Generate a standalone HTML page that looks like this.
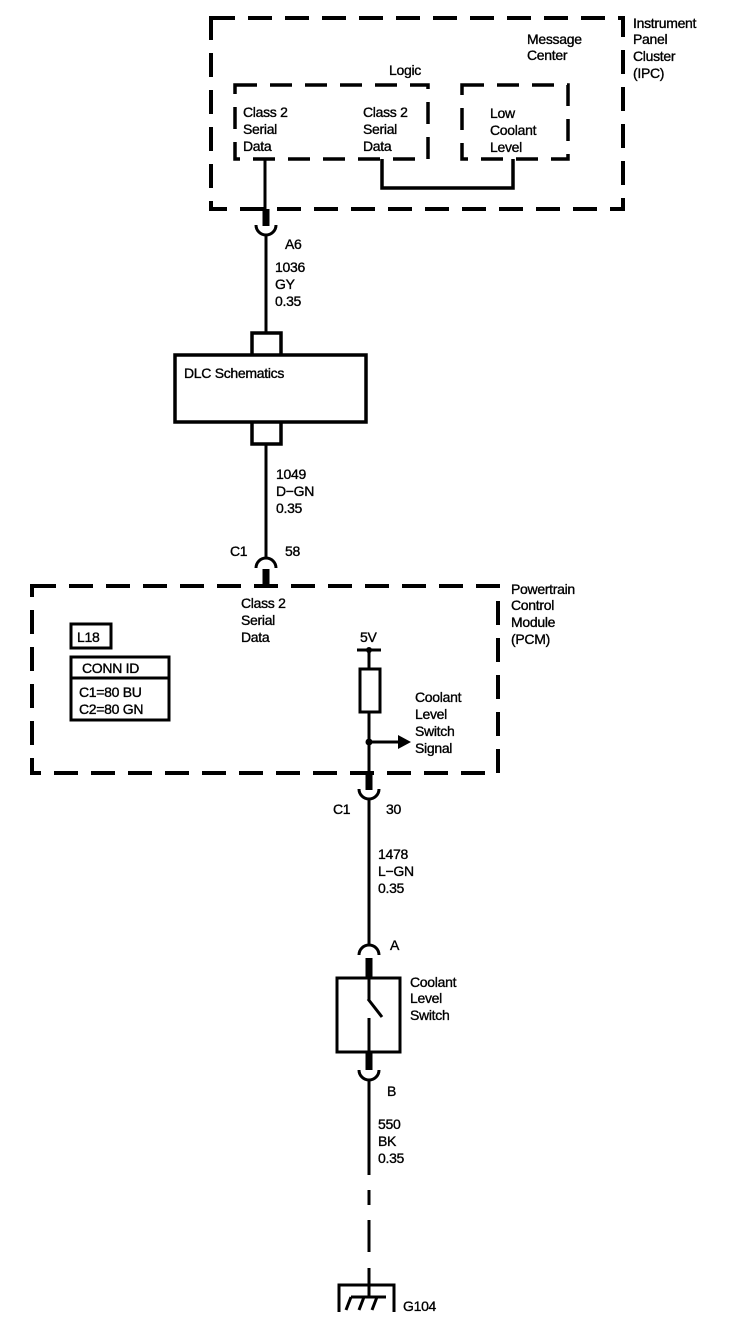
<!DOCTYPE html>
<html><head><meta charset="utf-8"><style>
html,body{margin:0;padding:0;background:#fff;}
svg{display:block}
text{font-family:"Liberation Sans",Arial,sans-serif;font-size:14px;fill:#000;stroke:#000;stroke-width:0.35px;letter-spacing:-0.3px}
</style></head><body>
<svg width="752" height="1332" viewBox="0 0 752 1332" xmlns="http://www.w3.org/2000/svg">
<g fill="none" stroke="#000">
<rect x="211" y="18" width="412" height="191" stroke-width="4" stroke-dasharray="24,13"/>
<rect x="235" y="85" width="193" height="74" stroke-width="3.5" stroke-dasharray="22,13"/>
<rect x="462" y="85" width="106" height="74" stroke-width="3.5" stroke-dasharray="22,13"/>
<polyline points="382,159 382,188 513,188 513,159" stroke-width="3.5"/>
<line x1="265" y1="159" x2="265" y2="224" stroke-width="3"/>
<line x1="266" y1="209" x2="266" y2="226" stroke-width="7"/>
<path d="M256,225 A10,10 0 0 0 276,225" stroke-width="3"/>
<line x1="266" y1="235" x2="266" y2="333" stroke-width="3"/>
<polyline points="252,354 252,333 281,333 281,354" stroke-width="3.5"/>
<rect x="175" y="355" width="191" height="67" stroke-width="3.5"/>
<polyline points="252,422 252,444 281,444 281,422" stroke-width="3.5"/>
<line x1="266" y1="444" x2="266" y2="558" stroke-width="3"/>
<path d="M256,568 A10,10 0 0 1 276,568" stroke-width="3"/>
<line x1="266" y1="569" x2="266" y2="586" stroke-width="7"/>
<rect x="32" y="586" width="466" height="187" stroke-width="4" stroke-dasharray="24,13"/>
<rect x="71" y="624" width="40" height="24" stroke-width="3"/>
<rect x="71" y="657" width="98" height="63" stroke-width="3"/>
<line x1="71" y1="678" x2="169" y2="678" stroke-width="3"/>
<line x1="357" y1="650" x2="381" y2="650" stroke-width="3"/>
<line x1="369" y1="650" x2="369" y2="668" stroke-width="3"/>
<rect x="360" y="669" width="20" height="43" stroke-width="3"/>
<line x1="369" y1="712" x2="369" y2="773" stroke-width="3"/>
<line x1="369" y1="742" x2="400" y2="742" stroke-width="3"/>
<line x1="369" y1="773" x2="369" y2="790" stroke-width="7"/>
<path d="M359,789 A10,10 0 0 0 379,789" stroke-width="3"/>
<line x1="369" y1="799" x2="369" y2="945" stroke-width="3"/>
<path d="M359,955 A10,10 0 0 1 379,955" stroke-width="3"/>
<line x1="369" y1="958" x2="369" y2="978" stroke-width="7"/>
<rect x="337" y="978" width="63" height="74" stroke-width="3"/>
<line x1="369" y1="978" x2="369" y2="1000" stroke-width="3"/>
<line x1="368" y1="999" x2="382" y2="1017" stroke-width="3"/>
<line x1="369" y1="1018" x2="369" y2="1052" stroke-width="3"/>
<line x1="369" y1="1052" x2="369" y2="1070" stroke-width="7"/>
<path d="M359,1070 A10,10 0 0 0 379,1070" stroke-width="3"/>
<line x1="369" y1="1079" x2="369" y2="1175" stroke-width="3"/>
<line x1="369" y1="1190" x2="369" y2="1205" stroke-width="3"/>
<line x1="369" y1="1220" x2="369" y2="1252" stroke-width="3"/>
<line x1="369" y1="1268" x2="369" y2="1297" stroke-width="3"/>
<polyline points="339,1312 339,1285 394,1285 394,1312" stroke-width="3"/>
<line x1="351" y1="1297" x2="386" y2="1297" stroke-width="3"/>
<line x1="351" y1="1297" x2="346" y2="1310" stroke-width="3"/>
<line x1="364" y1="1297" x2="359" y2="1310" stroke-width="3"/>
<line x1="377" y1="1297" x2="372" y2="1310" stroke-width="3"/>
</g>
<circle cx="369" cy="650" r="3"/>
<circle cx="369" cy="742" r="3.5"/>
<polygon points="398,735 411,742 398,749" fill="#000"/>
<text x="633" y="28">Instrument</text>
<text x="633" y="44">Panel</text>
<text x="633" y="61">Cluster</text>
<text x="633" y="78">(IPC)</text>
<text x="527" y="44">Message</text>
<text x="527" y="60">Center</text>
<text x="389" y="75">Logic</text>
<text x="243" y="117">Class 2</text>
<text x="243" y="134">Serial</text>
<text x="243" y="151">Data</text>
<text x="363" y="117">Class 2</text>
<text x="363" y="134">Serial</text>
<text x="363" y="151">Data</text>
<text x="490" y="118">Low</text>
<text x="490" y="135">Coolant</text>
<text x="490" y="152">Level</text>
<text x="285" y="249">A6</text>
<text x="275" y="272">1036</text>
<text x="275" y="289">GY</text>
<text x="275" y="306">0.35</text>
<text x="184" y="378">DLC Schematics</text>
<text x="276" y="479">1049</text>
<text x="276" y="496">D−GN</text>
<text x="276" y="513">0.35</text>
<text x="230" y="556">C1</text>
<text x="285" y="556">58</text>
<text x="241" y="608">Class 2</text>
<text x="241" y="625">Serial</text>
<text x="241" y="642">Data</text>
<text x="511" y="594">Powertrain</text>
<text x="511" y="610">Control</text>
<text x="511" y="627">Module</text>
<text x="511" y="644">(PCM)</text>
<text x="77" y="642">L18</text>
<text x="82" y="673">CONN ID</text>
<text x="79" y="697">C1=80 BU</text>
<text x="79" y="714">C2=80 GN</text>
<text x="360" y="642">5V</text>
<text x="415" y="702">Coolant</text>
<text x="415" y="719">Level</text>
<text x="415" y="736">Switch</text>
<text x="415" y="753">Signal</text>
<text x="333" y="814">C1</text>
<text x="386" y="814">30</text>
<text x="378" y="859">1478</text>
<text x="378" y="876">L−GN</text>
<text x="378" y="893">0.35</text>
<text x="390" y="950">A</text>
<text x="410" y="987">Coolant</text>
<text x="410" y="1003">Level</text>
<text x="410" y="1020">Switch</text>
<text x="387" y="1096">B</text>
<text x="378" y="1129">550</text>
<text x="378" y="1146">BK</text>
<text x="378" y="1163">0.35</text>
<text x="403" y="1311">G104</text>
</svg>
</body></html>
